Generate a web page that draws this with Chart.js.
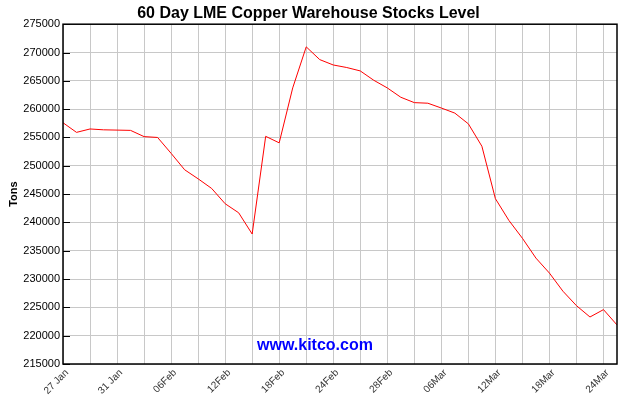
<!DOCTYPE html>
<html>
<head>
<meta charset="utf-8">
<title>60 Day LME Copper Warehouse Stocks Level</title>
<script src="https://cdn.jsdelivr.net/npm/chart.js@4.4.1/dist/chart.umd.min.js"></script>
<style>
  body { margin: 0; background: #fff; }
  #wrap { width: 630px; height: 400px; }
</style>
</head>
<body>
<div id="wrap"><canvas id="stocksChart"></canvas></div>
<script>
// trading days, 27 Jan - 25 Mar
const days = [
  "27 Jan", "28 Jan", "29 Jan", "30 Jan", "31 Jan",
  "03Feb", "04Feb", "05Feb", "06Feb", "07Feb",
  "10Feb", "11Feb", "12Feb", "13Feb", "14Feb",
  "17Feb", "18Feb", "19Feb", "20Feb", "21Feb",
  "24Feb", "25Feb", "26Feb", "27Feb", "28Feb",
  "03Mar", "04Mar", "05Mar", "06Mar", "07Mar",
  "10Mar", "11Mar", "12Mar", "13Mar", "14Mar",
  "17Mar", "18Mar", "19Mar", "20Mar", "21Mar",
  "24Mar", "25Mar"
];

// tons in LME warehouses
const stocks = [
  257600, 255900, 256500, 256350, 256300,
  256250, 255150, 255000, 252200, 249300,
  247700, 246000, 243300, 241700, 237950,
  255200, 254050, 263750, 271000, 268750,
  267800, 267350, 266750, 265100, 263750,
  262100, 261150, 261050, 260200, 259300,
  257400, 253450, 244200, 240350, 237200,
  233700, 231050, 227850, 225300, 223300,
  224600, 221900
];

const yMin = 215000;
const yMax = 275000;
const yStep = 5000;

// black frame + inside ticks on the y axis + watermark
const framePlugin = {
  id: "frame",
  afterDraw(chart) {
    const { ctx, chartArea } = chart;
    const y = chart.scales.y;
    ctx.save();
    ctx.strokeStyle = "#000";
    ctx.lineWidth = 1;
    ctx.beginPath();
    y.ticks.forEach(function (t) {
      const py = Math.round(y.getPixelForValue(t.value)) + 0.5;
      ctx.moveTo(chartArea.left, py);
      ctx.lineTo(chartArea.left + 7, py);
    });
    ctx.stroke();
    ctx.lineWidth = 1.5;
    ctx.strokeRect(chartArea.left, chartArea.top, chartArea.right - chartArea.left, chartArea.bottom - chartArea.top);

    ctx.fillStyle = "#0000ff";
    ctx.font = "bold 16px 'Liberation Sans', Arial, sans-serif";
    ctx.textAlign = "center";
    ctx.textBaseline = "alphabetic";
    ctx.fillText("www.kitco.com", 315, 350);
    ctx.restore();
  },
};

const ctx = document.getElementById("stocksChart").getContext("2d");
const chart = new Chart(ctx, {
  type: "line",
  data: {
    labels: days,
    datasets: [
      {
        label: "Stocks",
        data: stocks,
        borderColor: "#ff0000",
        borderWidth: 1,
        pointRadius: 0,
        tension: 0,
        fill: false,
      },
    ],
  },
  options: {
    responsive: true,
    maintainAspectRatio: false,
    animation: false,
    layout: { padding: { left: 0, right: 13, top: 0, bottom: 0 } },
    plugins: {
      legend: { display: false },
      tooltip: { enabled: false },
      title: {
        display: true,
        text: "60 Day LME Copper Warehouse Stocks Level",
        color: "#000",
        font: { family: "'Liberation Sans', Arial, sans-serif", size: 16, weight: "bold" },
        padding: { top: 4, bottom: 1 },
      },
    },
    scales: {
      x: {
        type: "category",
        offset: false,
        border: { display: false },
        grid: {
          color: function (c) {
            return c.index % 2 === 0 ? "#c8c8c8" : "rgba(0,0,0,0)";
          },
          drawTicks: false,
        },
        ticks: {
          autoSkip: false,
          minRotation: 45,
          maxRotation: 45,
          padding: 3,
          labelOffset: 4,
          color: "#333",
          font: { family: "'Liberation Sans', Arial, sans-serif", size: 10 },
          callback: function (val, index) {
            return index % 4 === 0 ? days[index] : "";
          },
        },
        afterFit: function (scale) {
          scale.height = 36;
        },
      },
      y: {
        min: yMin,
        max: yMax,
        border: { display: false },
        grid: { color: "#c8c8c8", drawTicks: false },
        ticks: {
          stepSize: yStep,
          padding: 3,
          color: "#000",
          font: { family: "'Liberation Sans', Arial, sans-serif", size: 11 },
          callback: function (v) {
            return String(v);
          },
        },
        title: {
          display: true,
          text: "Tons",
          color: "#000",
          font: { family: "'Liberation Sans', Arial, sans-serif", size: 11, weight: "bold" },
          padding: { top: 7, bottom: 0 },
        },
        afterFit: function (scale) {
          scale.width = 63;
        },
      },
    },
  },
  plugins: [framePlugin],
});
</script>
</body>
</html>
